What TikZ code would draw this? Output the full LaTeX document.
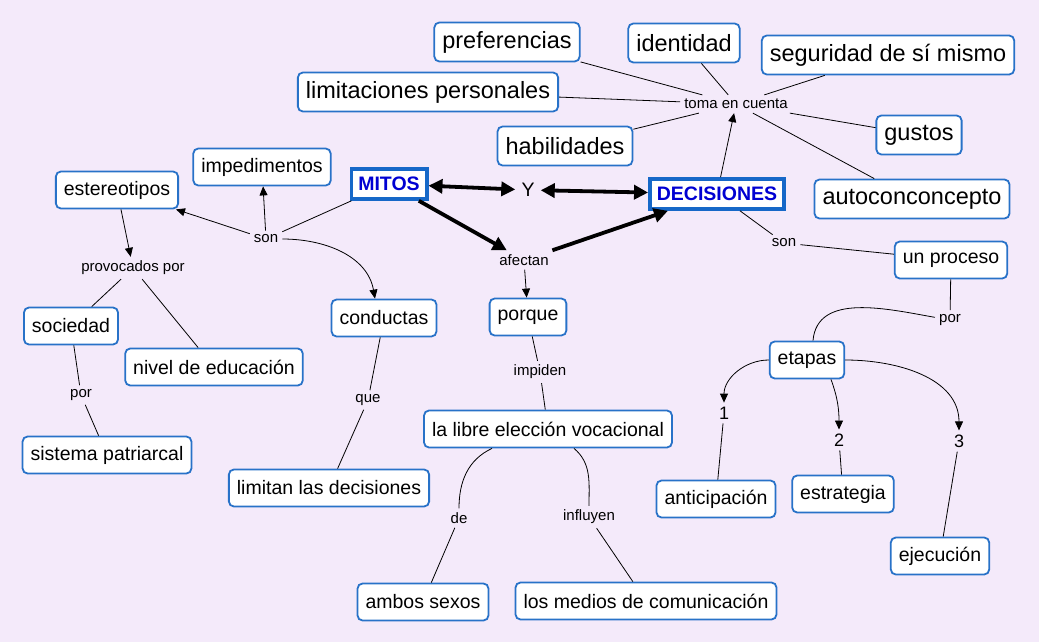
\documentclass[tikz,border=0pt]{standalone}
\usepackage{fontspec}
\setmainfont{Liberation Sans}
\usetikzlibrary{arrows.meta,calc}
\definecolor{bgmap}{RGB}{244,234,250}
\definecolor{cptblue}{RGB}{40,114,200}
\definecolor{keyblue}{RGB}{22,104,200}
\definecolor{keytext}{RGB}{0,0,210}

\begin{document}
\begin{tikzpicture}[x=1pt,y=1pt,
  concept/.style={draw=cptblue, line width=1.8pt, rounded corners=5pt, fill=white,
    inner xsep=8pt, minimum height=37pt, font=\fontsize{19.5}{23}\selectfont},
  bigconcept/.style={concept, minimum height=39pt, font=\fontsize{23.5}{27}\selectfont},
  key/.style={draw=keyblue, line width=3.6pt, fill=white, inner xsep=7pt,
    minimum height=30pt, text=keytext, font=\fontsize{19.5}{23}\selectfont\bfseries},
  link/.style={inner sep=4pt, font=\fontsize{15}{17}\selectfont},
  num/.style={link, font=\fontsize{18}{20}\selectfont},
  conn/.style={line width=0.8pt},
  arr/.style={conn, -{Triangle[length=9pt,width=8pt]}},
  bigarr/.style={line width=3.8pt, -{Triangle[length=14pt,width=14pt]}},
  bigdbl/.style={line width=3.8pt, {Triangle[length=14pt,width=14pt]}-{Triangle[length=14pt,width=14pt]}}
]
\useasboundingbox (0,0) rectangle (1039,-642);
\fill[bgmap] (0,0) rectangle (1039,-642);

% main concepts
\node[key] (mitos) at (389,-184) {MITOS};
\node[key] (decis) at (717,-194) {DECISIONES};
\node[link, inner sep=6pt, font=\fontsize{19.5}{23}\selectfont] (y) at (528,-190) {Y};
\node[link] (afectan) at (524,-260) {afectan};

% what is taken into account
\node[link] (toma) at (736,-104) {toma en cuenta};
\node[bigconcept] (pref) at (507,-42) {preferencias};
\node[bigconcept] (ident) at (684,-43) {identidad};
\node[bigconcept] (segur) at (888,-55) {seguridad de sí mismo};
\node[bigconcept] (limit) at (428,-92) {limitaciones personales};
\node[bigconcept] (habil) at (565,-146) {habilidades};
\node[bigconcept] (gustos) at (919,-135) {gustos};
\node[bigconcept] (auto) at (912,-199) {autoconconcepto};

% left side
\node[link] (son1) at (266,-239) {son};
\node[concept] (imped) at (262,-167) {impedimentos};
\node[concept] (estereo) at (117,-190) {estereotipos};
\node[link] (provoc) at (133,-268) {provocados por};
\node[concept] (socied) at (71,-326) {sociedad};
\node[concept] (nivel) at (214,-367) {nivel de educación};
\node[link] (porL) at (81,-395) {por};
\node[concept] (sistema) at (107,-455) {sistema patriarcal};
\node[concept] (conduc) at (384,-318) {conductas};
\node[link] (que) at (368,-400) {que};
\node[concept] (limitan) at (329,-488) {limitan las decisiones};

% middle
\node[concept] (porque) at (528,-317) {porque};
\node[link] (impiden) at (540,-372) {impiden};
\node[concept] (libre) at (548,-429) {la libre elección vocacional};
\node[link] (de) at (459,-518) {de};
\node[link] (influyen) at (589,-517) {influyen};
\node[concept] (ambos) at (423,-602) {ambos sexos};
\node[concept] (medios) at (646,-601) {los medios de comunicación};

% right side
\node[link] (son2) at (784,-243) {son};
\node[concept] (unproc) at (951,-260) {un proceso};
\node[link] (porR) at (950,-320) {por};
\node[concept] (etapas) at (807,-360) {etapas};
\node[num] (n1) at (724,-413) {1};
\node[num] (n2) at (839,-440) {2};
\node[num] (n3) at (959,-441) {3};
\node[concept] (antic) at (716,-499) {anticipación};
\node[concept] (estrat) at (843,-494) {estrategia};
\node[concept] (ejec) at (940,-556) {ejecución};

% thick links
\draw[bigdbl] (mitos) -- (y);
\draw[bigdbl] (y) -- (decis);
\draw[bigarr] (mitos) -- (afectan);
\draw[bigarr] (afectan) -- (decis);

% toma en cuenta
\draw[arr] (decis) -- (toma);
\foreach \c in {pref,ident,segur,limit,habil,gustos,auto}
  \draw[conn] (toma) -- (\c);

% mitos son ...
\draw[conn] (mitos) -- (son1);
\draw[arr] (son1) -- (estereo);
\draw[arr] (son1) -- (imped);
\draw[arr] (son1) to[out=0,in=100] ([xshift=-9pt]conduc.north);
\draw[arr] (estereo) -- (provoc);
\draw[conn] (provoc) -- (socied);
\draw[conn] (provoc) -- (nivel);
\draw[conn] (socied) -- (porL);
\draw[conn] (porL) -- (sistema);
\draw[conn] (conduc) -- (que);
\draw[conn] (que) -- (limitan);

% afectan porque ...
\draw[arr] (afectan) -- (porque);
\draw[conn] (porque) -- (impiden);
\draw[conn] (impiden) -- (libre);
\draw[conn] ([xshift=-56pt]libre.south) to[out=205,in=90] (de);
\draw[conn] ([xshift=26pt]libre.south) to[out=-40,in=90] (influyen);
\draw[conn] (de) -- (ambos);
\draw[conn] (influyen) -- (medios);

% decisiones son un proceso ...
\draw[conn] (decis) -- (son2);
\draw[conn] (son2) -- (unproc);
\draw[conn] (unproc) -- (porR);
\draw[conn] (porR) to[out=170,in=85] ([xshift=6pt]etapas.north);
\draw[arr] (etapas.west) to[out=180,in=90] (n1);
\draw[arr] ([xshift=24pt]etapas.south) to[out=-70,in=90] (n2);
\draw[arr] (etapas.east) to[out=0,in=90] (n3);
\draw[conn] (n1) -- (antic);
\draw[conn] (n2) -- (estrat);
\draw[conn] (n3) -- (ejec);
\end{tikzpicture}
\end{document}
